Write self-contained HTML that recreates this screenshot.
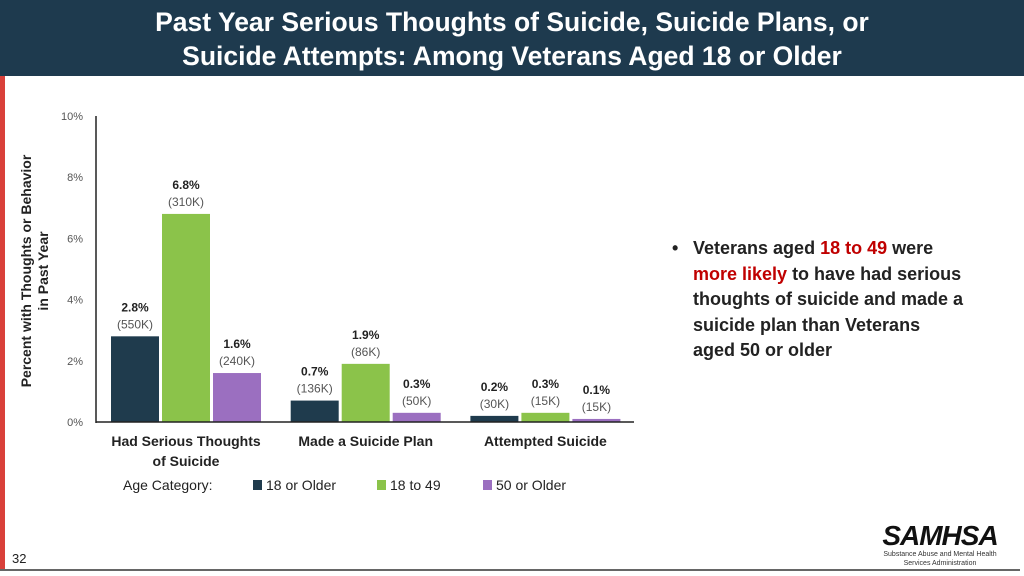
<!DOCTYPE html>
<html><head><meta charset="utf-8"><style>
body{margin:0;width:1024px;height:576px;background:#fff;position:relative;overflow:hidden;font-family:"Liberation Sans",sans-serif}
#hdr{position:absolute;left:0;top:0;width:1024px;height:76px;background:#1e3a4e;color:#fff;text-align:center;font-weight:bold;font-size:26.5px;line-height:34px;padding-top:5px;box-sizing:border-box}
#red{position:absolute;left:0;top:76px;width:5px;height:494px;background:#d9403a}
#bullet{position:absolute;left:672px;top:236px;width:340px;font-size:18px;font-weight:bold;color:#222;line-height:25.5px}
.r{color:#c00000}
</style></head><body>
<div id="hdr">Past Year Serious Thoughts of Suicide, Suicide Plans, or<br>Suicide Attempts: Among Veterans Aged 18 or Older</div>
<div id="red"></div>
<div id="bullet"><span style="position:absolute;left:0">•</span><div style="padding-left:21px">Veterans aged <span class="r">18 to 49</span> were<br><span class="r">more likely</span> to have had serious<br>thoughts of suicide and made a<br>suicide plan than Veterans<br>aged 50 or older</div></div>
<svg id="chart" width="1024" height="576" style="position:absolute;left:0;top:0"></svg>
<div style="position:absolute;left:12px;top:551px;font-size:13px;color:#222">32</div>
<div style="position:absolute;left:870px;top:522px;width:140px;text-align:center">
<div style="font-size:28px;font-weight:900;font-style:italic;letter-spacing:-1px;line-height:28px;color:#111">SAMHSA</div>
<div style="font-size:7px;line-height:9px;color:#333;white-space:nowrap">Substance Abuse and Mental Health<br>Services Administration</div></div>
<div style="position:absolute;left:0;top:569px;width:1020px;height:2px;background:#666"></div>
<script>
const categories=["Had Serious Thoughts|of Suicide","Made a Suicide Plan","Attempted Suicide"];
const seriesNames=["18 or Older","18 to 49","50 or Older"];
const s1=[2.8,0.7,0.2];
const s2=[6.8,1.9,0.3];
const s3=[1.6,0.3,0.1];
const counts1=["550K","136K","30K"];
const counts2=["310K","86K","15K"];
const counts3=["240K","50K","15K"];
const ticks=[0,2,4,6,8,10];
const colors=["#1f3b4d","#8bc34a","#9b6fc0"];
const svg=document.getElementById('chart');const NS="http://www.w3.org/2000/svg";
const y=v=>422-v*30.6;
const gx=i=>111+i*179.7;
function mk(t,a,p){const e=document.createElementNS(NS,t);for(const k in a)e.setAttribute(k,a[k]);(p||svg).appendChild(e);return e;}
ticks.forEach(t=>{const e=mk('text',{x:83,y:y(t)+4,'text-anchor':'end','font-size':11,fill:'#555'});e.textContent=t+'%';

});
const at=mk('text',{transform:'translate(31,271) rotate(-90)','text-anchor':'middle','font-size':14,'font-weight':'bold',fill:'#222'});


mk('tspan',{x:0,dy:0},at).textContent='Percent with Thoughts or Behavior';
mk('tspan',{x:0,dy:17},at).textContent='in Past Year';
const series=[s1,s2,s3],counts=[counts1,counts2,counts3];
categories.forEach((c,i)=>{
 series.forEach((s,j)=>{const x=gx(i)+j*51;
  const r=mk('rect',{x:x,y:y(s[i]),width:48,height:422-y(s[i]),fill:colors[j]});
  
  
  const t1=mk('text',{x:x+24,y:y(s[i])-25,'text-anchor':'middle','font-size':12,'font-weight':'bold',fill:'#222'});t1.textContent=s[i].toFixed(1)+'%';
  
  
  const t2=mk('text',{x:x+24,y:y(s[i])-8,'text-anchor':'middle','font-size':12,fill:'#555'});t2.textContent='('+counts[j][i]+')';
  
  
 });
 const ct=mk('text',{x:gx(i)+75,y:446,'text-anchor':'middle','font-size':14,'font-weight':'bold',fill:'#222'});
 
 
 c.split('|').forEach((l,k)=>{mk('tspan',{x:gx(i)+75,dy:k?20:0},ct).textContent=l;});
});
mk('line',{x1:96,y1:116,x2:96,y2:423,stroke:'#222','stroke-width':1.5});
mk('line',{x1:96,y1:422,x2:634,y2:422,stroke:'#222','stroke-width':1.5});
const lt=mk('text',{x:123,y:490,'font-size':14,fill:'#222'});lt.textContent='Age Category:';


const lx=[253,377,483];
seriesNames.forEach((n,j)=>{
 const g=mk('g',{});
 
 
 mk('rect',{x:lx[j],y:480,width:9,height:10,fill:colors[j]},g);
 mk('text',{x:lx[j]+13,y:490,'font-size':14,fill:'#222'},g).textContent=n;
});
</script>
</body></html>
